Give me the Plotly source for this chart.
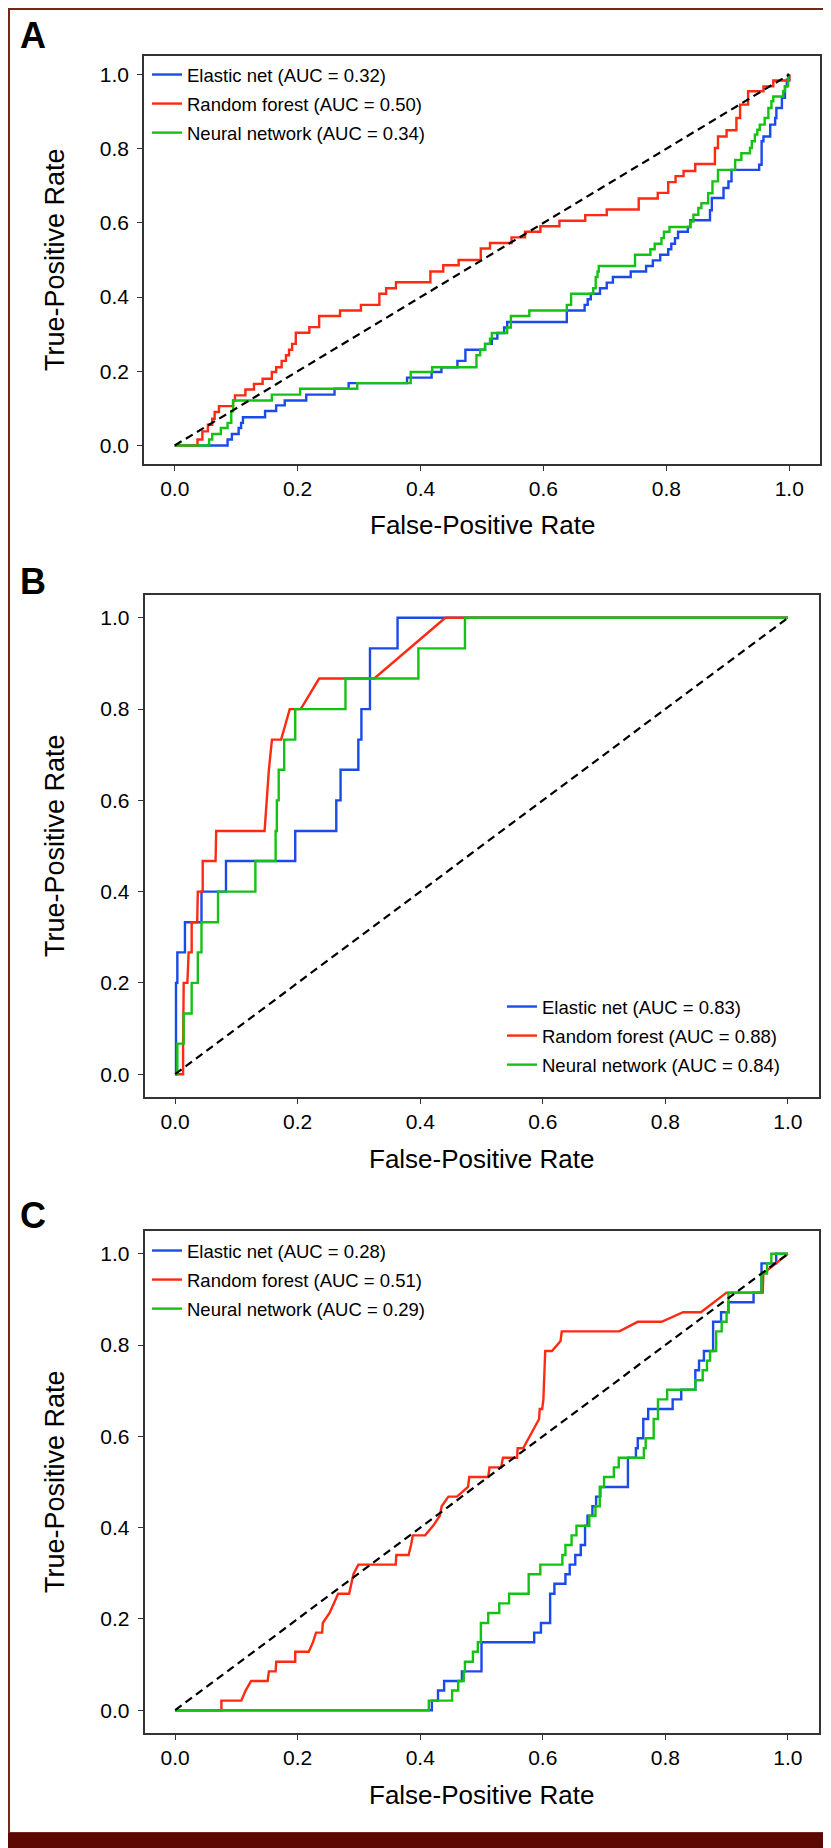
import plotly.graph_objects as go

# ---------------- data ----------------
MODELS = ["Elastic net", "Random forest", "Neural network"]
A_AUC = [0.32, 0.50, 0.34]
B_AUC = [0.83, 0.88, 0.84]
C_AUC = [0.28, 0.51, 0.29]
DIAG = [0.0, 1.0]
TICKS = [0.0, 0.2, 0.4, 0.6, 0.8, 1.0]

# Panel A (step points: horizontal then vertical)
A_EN_FPR = [0, 0.086, 0.093, 0.104, 0.108, 0.111, 0.147, 0.165, 0.179, 0.214, 0.260, 0.283, 0.378, 0.418, 0.434, 0.460, 0.473, 0.505, 0.516, 0.525, 0.536, 0.541, 0.638, 0.667, 0.672, 0.677, 0.692, 0.703, 0.713, 0.742, 0.767, 0.778, 0.790, 0.803, 0.808, 0.814, 0.819, 0.835, 0.839, 0.871, 0.874, 0.893, 0.901, 0.906, 0.951, 0.955, 0.958, 0.969, 0.977, 0.979, 0.988, 0.993, 0.996, 1.0]
A_EN_TPR = [0, 0.016, 0.031, 0.047, 0.061, 0.076, 0.093, 0.108, 0.121, 0.137, 0.153, 0.168, 0.183, 0.198, 0.211, 0.228, 0.258, 0.274, 0.288, 0.303, 0.318, 0.333, 0.364, 0.379, 0.394, 0.409, 0.424, 0.439, 0.454, 0.469, 0.484, 0.499, 0.514, 0.529, 0.544, 0.559, 0.576, 0.589, 0.607, 0.634, 0.667, 0.694, 0.712, 0.743, 0.757, 0.820, 0.833, 0.865, 0.883, 0.910, 0.937, 0.968, 0.986, 1.0]
A_RF_FPR = [0, 0.037, 0.045, 0.054, 0.061, 0.065, 0.072, 0.095, 0.098, 0.115, 0.129, 0.143, 0.158, 0.165, 0.174, 0.181, 0.186, 0.191, 0.197, 0.219, 0.235, 0.269, 0.303, 0.333, 0.344, 0.360, 0.416, 0.437, 0.462, 0.498, 0.513, 0.548, 0.570, 0.595, 0.626, 0.668, 0.703, 0.755, 0.786, 0.803, 0.815, 0.828, 0.847, 0.879, 0.884, 0.898, 0.914, 0.920, 0.933, 0.958, 0.974, 1.0]
A_RF_TPR = [0, 0.016, 0.038, 0.056, 0.072, 0.090, 0.106, 0.121, 0.135, 0.151, 0.166, 0.180, 0.198, 0.211, 0.228, 0.243, 0.258, 0.274, 0.304, 0.319, 0.349, 0.364, 0.379, 0.409, 0.424, 0.440, 0.469, 0.486, 0.500, 0.531, 0.546, 0.561, 0.576, 0.591, 0.606, 0.621, 0.636, 0.666, 0.681, 0.710, 0.726, 0.740, 0.759, 0.802, 0.833, 0.850, 0.883, 0.919, 0.955, 0.968, 0.984, 1.0]
A_NN_FPR = [0, 0.056, 0.061, 0.075, 0.086, 0.092, 0.095, 0.158, 0.204, 0.297, 0.384, 0.419, 0.491, 0.497, 0.505, 0.513, 0.516, 0.541, 0.547, 0.577, 0.638, 0.645, 0.681, 0.685, 0.688, 0.690, 0.749, 0.774, 0.781, 0.792, 0.796, 0.805, 0.839, 0.844, 0.852, 0.857, 0.868, 0.875, 0.884, 0.912, 0.922, 0.936, 0.939, 0.944, 0.948, 0.952, 0.960, 0.966, 0.971, 0.974, 0.990, 0.993, 0.998, 1.0]
A_NN_TPR = [0, 0.016, 0.031, 0.047, 0.061, 0.092, 0.121, 0.137, 0.153, 0.168, 0.198, 0.211, 0.243, 0.258, 0.274, 0.288, 0.303, 0.318, 0.349, 0.364, 0.379, 0.409, 0.424, 0.454, 0.469, 0.484, 0.514, 0.529, 0.544, 0.559, 0.576, 0.589, 0.604, 0.622, 0.640, 0.653, 0.680, 0.712, 0.743, 0.770, 0.788, 0.802, 0.820, 0.838, 0.851, 0.865, 0.883, 0.910, 0.928, 0.941, 0.955, 0.968, 1.0, 1.0]

# Panel B
B_EN_FPR = [0, 0.0014, 0.0036, 0.016, 0.043, 0.083, 0.196, 0.263, 0.270, 0.299, 0.304, 0.318, 0.363, 1.0]
B_EN_TPR = [0, 0.200, 0.267, 0.333, 0.400, 0.467, 0.533, 0.600, 0.667, 0.733, 0.800, 0.933, 1.0, 1.0]
B_RF_FPR = [0, 0.013, 0.013, 0.014, 0.020, 0.022, 0.027, 0.027, 0.036, 0.037, 0.045, 0.045, 0.066, 0.067, 0.146, 0.153, 0.158, 0.173, 0.187, 0.205, 0.235, 0.325, 0.441, 1.0]
B_RF_TPR = [0, 0, 0.067, 0.200, 0.200, 0.267, 0.267, 0.333, 0.333, 0.400, 0.400, 0.467, 0.467, 0.533, 0.533, 0.667, 0.733, 0.733, 0.800, 0.800, 0.867, 0.867, 1.0, 1.0]
B_NN_FPR = [0, 0.0036, 0.014, 0.027, 0.037, 0.043, 0.070, 0.131, 0.164, 0.166, 0.169, 0.178, 0.196, 0.278, 0.397, 0.473, 1.0]
B_NN_TPR = [0, 0.067, 0.133, 0.200, 0.267, 0.333, 0.400, 0.467, 0.533, 0.600, 0.667, 0.733, 0.800, 0.867, 0.933, 1.0, 1.0]

# Panel C
C_EN_FPR = [0, 0.419, 0.429, 0.439, 0.468, 0.500, 0.586, 0.597, 0.612, 0.619, 0.637, 0.644, 0.653, 0.662, 0.669, 0.673, 0.681, 0.687, 0.694, 0.739, 0.752, 0.755, 0.764, 0.772, 0.812, 0.826, 0.849, 0.855, 0.863, 0.878, 0.891, 0.903, 0.944, 0.957, 0.981, 1.0]
C_EN_TPR = [0, 0.021, 0.043, 0.064, 0.085, 0.149, 0.170, 0.191, 0.255, 0.277, 0.298, 0.319, 0.340, 0.362, 0.404, 0.426, 0.447, 0.468, 0.489, 0.553, 0.574, 0.596, 0.638, 0.660, 0.681, 0.702, 0.745, 0.766, 0.787, 0.851, 0.872, 0.894, 0.915, 0.979, 1.0, 1.0]
C_RF_FPR = [0, 0.0755, 0.0755, 0.108, 0.115, 0.124, 0.151, 0.153, 0.164, 0.165, 0.196, 0.196, 0.218, 0.225, 0.230, 0.240, 0.241, 0.252, 0.259, 0.266, 0.284, 0.288, 0.291, 0.299, 0.360, 0.361, 0.381, 0.385, 0.388, 0.408, 0.421, 0.432, 0.435, 0.446, 0.460, 0.478, 0.480, 0.511, 0.513, 0.532, 0.535, 0.558, 0.559, 0.568, 0.594, 0.595, 0.599, 0.601, 0.604, 0.615, 0.629, 0.631, 0.725, 0.755, 0.794, 0.829, 0.858, 0.900, 0.959, 0.960, 1.0]
C_RF_TPR = [0, 0, 0.021, 0.021, 0.043, 0.064, 0.064, 0.085, 0.085, 0.106, 0.106, 0.128, 0.128, 0.149, 0.170, 0.170, 0.191, 0.213, 0.234, 0.255, 0.255, 0.277, 0.298, 0.319, 0.319, 0.340, 0.340, 0.362, 0.383, 0.383, 0.404, 0.426, 0.447, 0.468, 0.468, 0.489, 0.511, 0.511, 0.532, 0.532, 0.553, 0.553, 0.574, 0.574, 0.638, 0.660, 0.660, 0.681, 0.787, 0.787, 0.809, 0.830, 0.830, 0.851, 0.851, 0.872, 0.872, 0.915, 0.915, 0.957, 1.0]
C_NN_FPR = [0, 0.414, 0.452, 0.462, 0.471, 0.473, 0.486, 0.494, 0.499, 0.511, 0.529, 0.545, 0.577, 0.596, 0.632, 0.637, 0.647, 0.655, 0.676, 0.686, 0.693, 0.700, 0.716, 0.724, 0.765, 0.768, 0.781, 0.788, 0.803, 0.849, 0.861, 0.868, 0.873, 0.883, 0.892, 0.900, 0.903, 0.957, 0.966, 0.973, 1.0]
C_NN_TPR = [0, 0.021, 0.043, 0.064, 0.085, 0.106, 0.128, 0.149, 0.191, 0.213, 0.234, 0.255, 0.298, 0.319, 0.340, 0.362, 0.383, 0.404, 0.426, 0.447, 0.489, 0.511, 0.532, 0.553, 0.574, 0.596, 0.638, 0.681, 0.702, 0.723, 0.745, 0.766, 0.787, 0.830, 0.851, 0.872, 0.915, 0.957, 0.979, 1.0, 1.0]

# ---------------- styling ----------------
W, H = 831, 1848
FONT = "Liberation Sans, Arial, Helvetica, sans-serif"
COLORS = ["#1a4ae8", "#ff2a12", "#14c214"]
FRAME = "#333333"

def px_x(p):
    return p / W

def px_y(p):
    return 1 - p / H

panels = [
    dict(key="", legend="legend", label="A", auc=A_AUC,
         curves=[(A_EN_FPR, A_EN_TPR, "hv"), (A_RF_FPR, A_RF_TPR, "hv"), (A_NN_FPR, A_NN_TPR, "hv")],
         frame=(136, 812, 48, 456), label_y=27, xtitle_y=517,
         leg=(139, 48)),
    dict(key="2", legend="legend2", label="B", auc=B_AUC,
         curves=[(B_EN_FPR, B_EN_TPR, "hv"), (B_RF_FPR, B_RF_TPR, "linear"), (B_NN_FPR, B_NN_TPR, "hv")],
         frame=(136.5, 810.5, 587, 1089), label_y=573, xtitle_y=1151,
         leg=(494, 980)),
    dict(key="3", legend="legend3", label="C", auc=C_AUC,
         curves=[(C_EN_FPR, C_EN_TPR, "hv"), (C_RF_FPR, C_RF_TPR, "linear"), (C_NN_FPR, C_NN_TPR, "hv")],
         frame=(136.5, 810.5, 1223, 1725), label_y=1207, xtitle_y=1787,
         leg=(139, 1224)),
]

fig = go.Figure()
annotations = []
layout = {}
for p in panels:
    for fpr, tpr, _ in p["curves"]:
        assert len(fpr) == len(tpr)
    xa = "x" + p["key"]
    ya = "y" + p["key"]
    for i, (fpr, tpr, shape) in enumerate(p["curves"]):
        fig.add_trace(go.Scatter(
            x=fpr, y=tpr, mode="lines", xaxis=xa, yaxis=ya,
            line=dict(color=COLORS[i], width=2.4, shape=shape),
            name=f"{MODELS[i]} (AUC = {p['auc'][i]:.2f})",
            legend=p["legend"], legendgroup=p["label"] + str(i),
        ))
    fig.add_trace(go.Scatter(
        x=DIAG, y=DIAG, mode="lines", xaxis=xa, yaxis=ya,
        line=dict(color="black", width=2.2, dash="8px,5px"),
        showlegend=False,
    ))
    l, r, t, b = p["frame"]
    axis_common = dict(
        range=[-0.05, 1.05], tickvals=TICKS, tickformat=".1f",
        showgrid=False, zeroline=False, showline=True, mirror=True,
        linecolor=FRAME, linewidth=1.5, ticks="outside", ticklen=5,
        tickwidth=1.2, tickcolor=FRAME,
        tickfont=dict(family=FONT, size=21, color="black"),
    )
    layout["xaxis" + p["key"]] = dict(axis_common, domain=[px_x(l), px_x(r)],
                                      anchor=ya, ticklabelstandoff=0)
    layout["yaxis" + p["key"]] = dict(axis_common, domain=[px_y(b), px_y(t)],
                                      anchor=xa, ticklabelstandoff=4)
    lx, ly = p["leg"]
    layout[p["legend"]] = dict(
        x=px_x(lx), y=px_y(ly), xanchor="left", yanchor="top",
        bgcolor="rgba(0,0,0,0)", borderwidth=0, tracegroupgap=2,
        font=dict(family=FONT, size=18.5, color="black"), itemwidth=30,
    )
    annotations.append(dict(text=f"<b>{p['label']}</b>", x=px_x(10), y=px_y(p["label_y"]),
                            xref="paper", yref="paper", xanchor="left", yanchor="middle",
                            showarrow=False, font=dict(family=FONT, size=36, color="black")))
    annotations.append(dict(text="False-Positive Rate", x=px_x((l + r) / 2), y=px_y(p["xtitle_y"]),
                            xref="paper", yref="paper", xanchor="center", yanchor="middle",
                            showarrow=False, font=dict(family=FONT, size=26, color="black")))
    annotations.append(dict(text="True-Positive Rate", x=px_x(47), y=px_y((t + b) / 2),
                            xref="paper", yref="paper", xanchor="center", yanchor="middle",
                            textangle=-90, showarrow=False,
                            font=dict(family=FONT, size=27, color="black")))

shapes = [
    dict(type="rect", xref="paper", yref="paper", x0=px_x(1), x1=px_x(829),
         y0=px_y(1825), y1=px_y(1), line=dict(color="#7a241c", width=2), layer="above"),
    dict(type="rect", xref="paper", yref="paper", x0=0, x1=1, y0=0, y1=px_y(1825),
         fillcolor="#5c0903", line=dict(width=0), layer="above"),
]

fig.update_layout(
    width=W, height=H, autosize=False,
    margin=dict(l=0, r=0, t=0, b=0),
    paper_bgcolor="white", plot_bgcolor="white",
    annotations=annotations, shapes=shapes, showlegend=True,
    **layout,
)

fig.write_html("out.html")
